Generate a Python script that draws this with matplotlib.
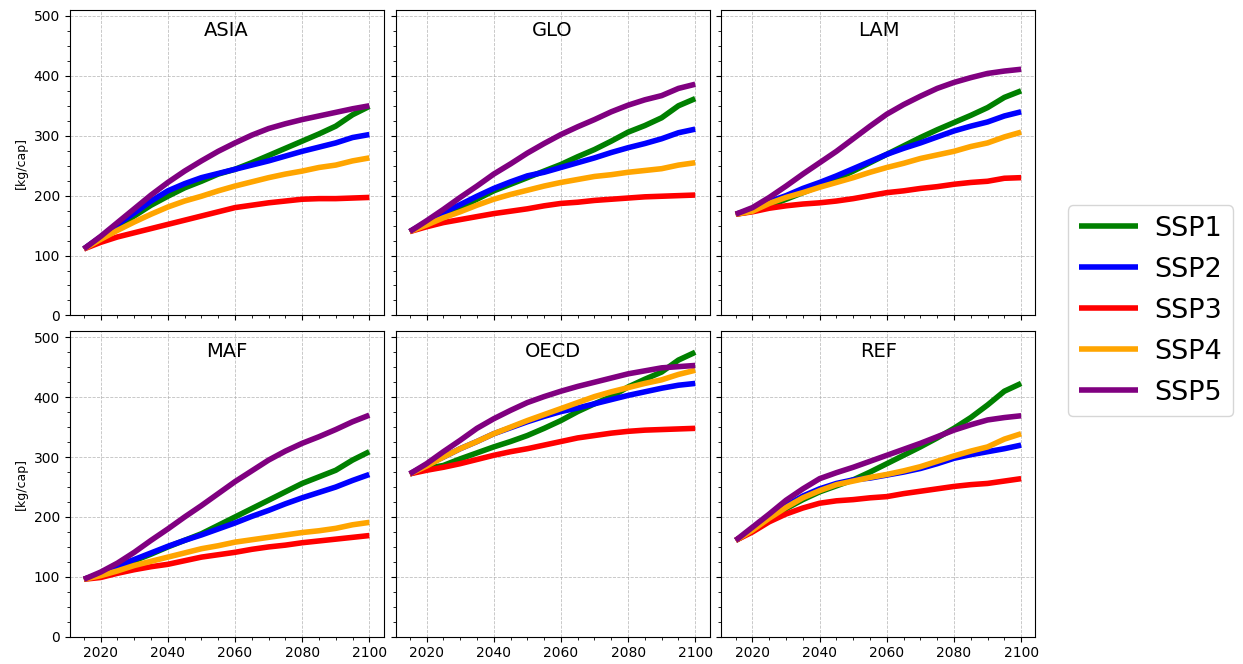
import numpy as np
import matplotlib
matplotlib.use("Agg")
import matplotlib.pyplot as plt
from matplotlib.ticker import MultipleLocator

# ----------------------------------------------------------------------------
# Data — kg per capita, every 5 years
# ----------------------------------------------------------------------------
years = list(range(2015, 2101, 5))
scenarios = ["SSP1", "SSP2", "SSP3", "SSP4", "SSP5"]
colors = ["green", "blue", "red", "orange", "purple"]
regions = ["ASIA", "GLO", "LAM", "MAF", "OECD", "REF"]

asia_ssp1 = [111, 130, 146, 166, 184, 199, 213, 224, 236, 244, 255, 267, 279, 291, 303, 316, 335, 349]
asia_ssp2 = [111, 131, 152, 171, 191, 208, 220, 230, 237, 244, 251, 258, 266, 274, 281, 288, 297, 302]
asia_ssp3 = [111, 122, 131, 138, 145, 152, 159, 166, 173, 180, 184, 188, 191, 194, 195, 195, 196, 197]
asia_ssp4 = [111, 127, 142, 156, 169, 181, 191, 199, 208, 216, 223, 230, 236, 241, 247, 251, 258, 263]
asia_ssp5 = [111, 132, 155, 178, 201, 222, 241, 258, 274, 288, 301, 312, 320, 327, 333, 339, 345, 350]

glo_ssp1 = [140, 154, 166, 180, 194, 208, 219, 230, 241, 252, 265, 277, 291, 306, 317, 330, 350, 362]
glo_ssp2 = [140, 156, 172, 185, 199, 212, 223, 233, 239, 247, 255, 263, 272, 280, 287, 295, 305, 311]
glo_ssp3 = [140, 148, 155, 160, 165, 170, 174, 178, 183, 187, 189, 192, 194, 196, 198, 199, 200, 201]
glo_ssp4 = [140, 151, 163, 173, 184, 194, 202, 209, 216, 222, 227, 232, 235, 239, 242, 245, 251, 255]
glo_ssp5 = [140, 158, 177, 197, 216, 236, 253, 271, 287, 302, 315, 327, 340, 351, 360, 367, 379, 386]

lam_ssp1 = [169, 174, 183, 194, 205, 216, 228, 241, 255, 269, 283, 297, 310, 322, 334, 347, 364, 375]
lam_ssp2 = [169, 177, 190, 200, 212, 222, 233, 245, 257, 269, 279, 288, 298, 308, 316, 323, 333, 340]
lam_ssp3 = [169, 173, 179, 183, 186, 188, 191, 195, 200, 205, 208, 212, 215, 219, 222, 224, 229, 230]
lam_ssp4 = [169, 174, 187, 197, 205, 214, 222, 230, 239, 247, 254, 262, 268, 274, 282, 288, 298, 306]
lam_ssp5 = [169, 180, 197, 216, 236, 255, 274, 295, 316, 336, 352, 366, 379, 389, 397, 404, 408, 411]

maf_ssp1 = [96, 105, 116, 127, 138, 150, 161, 172, 186, 200, 214, 228, 242, 256, 267, 278, 295, 309]
maf_ssp2 = [96, 105, 118, 129, 140, 151, 161, 170, 180, 190, 201, 211, 222, 232, 241, 250, 261, 271]
maf_ssp3 = [96, 99, 106, 112, 117, 121, 127, 133, 137, 141, 146, 150, 153, 157, 160, 163, 166, 169]
maf_ssp4 = [96, 102, 110, 119, 126, 133, 140, 147, 152, 158, 162, 166, 170, 174, 177, 181, 187, 191]
maf_ssp5 = [96, 108, 123, 141, 161, 180, 200, 219, 239, 259, 277, 295, 310, 323, 334, 346, 359, 370]

oecd_ssp1 = [272, 281, 286, 297, 307, 317, 326, 336, 348, 361, 376, 389, 401, 417, 430, 442, 462, 475]
oecd_ssp2 = [272, 287, 300, 314, 326, 339, 349, 359, 368, 376, 382, 389, 396, 403, 409, 415, 420, 423]
oecd_ssp3 = [272, 278, 283, 289, 296, 303, 309, 314, 320, 326, 332, 336, 340, 343, 345, 346, 347, 348]
oecd_ssp4 = [272, 285, 300, 314, 326, 339, 350, 361, 371, 381, 391, 401, 409, 416, 423, 429, 438, 445]
oecd_ssp5 = [272, 289, 309, 328, 348, 364, 378, 391, 401, 410, 418, 425, 432, 439, 444, 449, 451, 453]

ref_ssp1 = [161, 177, 197, 214, 229, 242, 252, 262, 275, 289, 303, 317, 332, 348, 366, 387, 410, 423]
ref_ssp2 = [161, 178, 200, 219, 235, 247, 256, 262, 265, 270, 275, 281, 289, 298, 304, 309, 314, 320]
ref_ssp3 = [161, 175, 192, 205, 215, 223, 227, 229, 232, 234, 239, 243, 247, 251, 254, 256, 260, 264]
ref_ssp4 = [161, 178, 198, 216, 232, 244, 254, 260, 266, 271, 277, 284, 293, 302, 310, 317, 330, 339]
ref_ssp5 = [161, 183, 205, 228, 247, 264, 274, 283, 293, 303, 313, 323, 334, 345, 354, 362, 366, 369]

series = {
    "ASIA": [asia_ssp1, asia_ssp2, asia_ssp3, asia_ssp4, asia_ssp5],
    "GLO": [glo_ssp1, glo_ssp2, glo_ssp3, glo_ssp4, glo_ssp5],
    "LAM": [lam_ssp1, lam_ssp2, lam_ssp3, lam_ssp4, lam_ssp5],
    "MAF": [maf_ssp1, maf_ssp2, maf_ssp3, maf_ssp4, maf_ssp5],
    "OECD": [oecd_ssp1, oecd_ssp2, oecd_ssp3, oecd_ssp4, oecd_ssp5],
    "REF": [ref_ssp1, ref_ssp2, ref_ssp3, ref_ssp4, ref_ssp5],
}


def main():
    fig, axes = plt.subplots(2, 3, figsize=(12.43, 6.64), dpi=100,
                             sharex=True, sharey=True)
    fig.subplots_adjust(left=0.056, right=0.833, bottom=0.041, top=0.985,
                        wspace=0.038, hspace=0.052)

    for ax, region in zip(axes.flat, regions):
        for vals, name, col in zip(series[region], scenarios, colors):
            ax.plot(years, vals, color=col, linewidth=4, label=name,
                    solid_capstyle="butt", solid_joinstyle="round")
        ax.text(0.5, 0.965, region, transform=ax.transAxes, ha="center",
                va="top", fontsize=14)
        ax.set_ylim(0, 510)
        ax.xaxis.set_major_locator(MultipleLocator(20))
        ax.xaxis.set_minor_locator(MultipleLocator(5))
        ax.yaxis.set_major_locator(MultipleLocator(100))
        ax.yaxis.set_minor_locator(MultipleLocator(25))
        ax.grid(True, which="major", linestyle="--", linewidth=0.6,
                color="#b0b0b0", alpha=0.8)
        ax.tick_params(labelsize=10)

    for ax in axes[:, 0]:
        ax.set_ylabel("[kg/cap]", fontsize=9)

    handles, labels = axes[0, 0].get_legend_handles_labels()
    fig.legend(handles, labels, loc="center left",
               bbox_to_anchor=(0.859, 0.532), borderaxespad=0,
               fontsize=19.5, handlelength=2.2, handletextpad=0.6,
               labelspacing=0.55, borderpad=0.4)

    plt.savefig("out.png", dpi=100)


if __name__ == "__main__":
    main()
